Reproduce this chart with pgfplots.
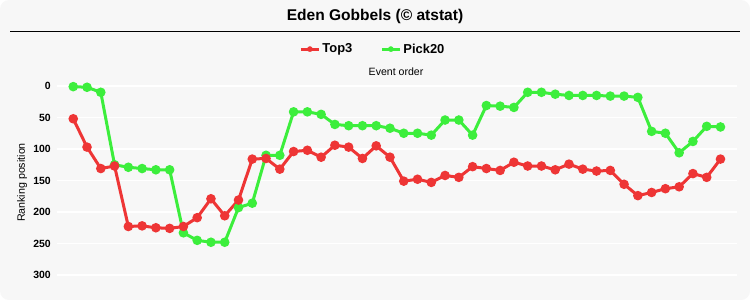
\documentclass[border=0pt]{standalone}
\usepackage{fontspec}
\setmainfont{Liberation Sans}
\usepackage{pgfplots}
\pgfplotsset{compat=1.18}
\definecolor{bgc}{HTML}{F7F7F7}
\definecolor{redc}{HTML}{EE3535}
\definecolor{greenc}{HTML}{3CEE3C}
\begin{document}
\begin{tikzpicture}
\fill[white] (0,0) rectangle (750bp,-300bp);
\fill[bgc, rounded corners=9bp] (0,0) rectangle (750bp,-300bp);
\node[font=\bfseries\fontsize{15.6}{18}\selectfont, anchor=center] at (375bp,-16bp) {Eden Gobbels (© atstat)};
\draw[black, line width=1.2bp] (10bp,-31.5bp) -- (740bp,-31.5bp);
\node[font=\fontsize{10.6}{12}\selectfont] at (396bp,-72bp) {Event order};
\node[font=\fontsize{10.7}{12}\selectfont, rotate=90] at (22bp,-182.5bp) {Ranking position};
\begin{axis}[
  at={(57bp,-76.55bp)}, anchor=north west,
  scale only axis, width=680bp, height=207.9bp,
  xmin=-1.18, xmax=48.2,
  ymin=-15, ymax=315, y dir=reverse,
  axis line style={draw=none},
  xtick=\empty,
  ytick={0,50,100,150,200,250,300},
  yticklabels={0,50,100,150,200,250,300},
  yticklabel style={font=\bfseries\fontsize{10.5}{12}\selectfont, inner sep=0pt, xshift=-6bp},
  major tick length=0pt,
  ymajorgrids, grid style={white, line width=1.2bp},
  legend columns=2,
  legend style={at={(0.4646,1.132)}, anchor=center, draw=none, fill=none,
    font=\bfseries\fontsize{13}{15}\selectfont,
    /tikz/every even column/.append style={column sep=26bp}},
  legend image code/.code={
    \draw[#1, line width=3bp] (0bp,0bp) -- (18bp,0bp);
    \fill[#1] (9bp,0bp) circle (2.6bp);
  },
]
\addplot[greenc, line width=3bp, mark=*, mark size=3.2bp, mark options={solid}, forget plot] coordinates {
(0,1)(1,2)(2,10)(3,125)(4,129)(5,131)(6,133)(7,133)(8,233)(9,245)(10,248)(11,248)(12,193)(13,186)(14,110)(15,110)(16,41)(17,41)(18,45)(19,61)(20,63)(21,63)(22,63)(23,67)(24,75)(25,75)(26,78)(27,54)(28,54)(29,78)(30,31)(31,32)(32,34)(33,10)(34,10)(35,13)(36,15)(37,15)(38,15)(39,16)(40,16)(41,18)(42,72)(43,75)(44,106)(45,88)(46,64)(47,65)
};
\addplot[redc, line width=3bp, mark=*, mark size=3.2bp, mark options={solid}, forget plot] coordinates {
(0,52)(1,97)(2,131)(3,127)(4,223)(5,222)(6,225)(7,226)(8,223)(9,209)(10,179)(11,206)(12,181)(13,116)(14,115)(15,132)(16,104)(17,102)(18,113)(19,94)(20,97)(21,115)(22,95)(23,113)(24,151)(25,148)(26,153)(27,142)(28,145)(29,128)(30,131)(31,134)(32,121)(33,127)(34,127)(35,133)(36,124)(37,132)(38,135)(39,134)(40,156)(41,174)(42,169)(43,163)(44,160)(45,139)(46,145)(47,116)
};
\addlegendimage{redc}
\addlegendentry{Top3}
\addlegendimage{greenc}
\addlegendentry{Pick20}
\end{axis}
\end{tikzpicture}
\end{document}
